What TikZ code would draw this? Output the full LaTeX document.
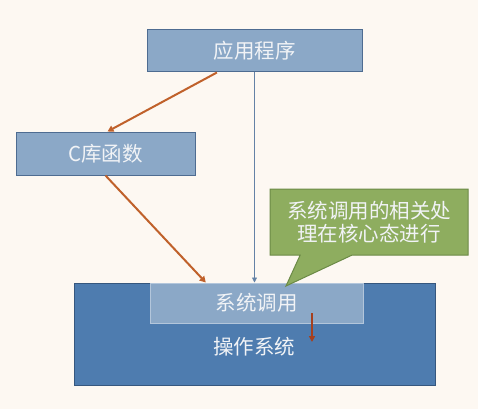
\documentclass[tikz,border=0pt]{standalone}
\usepackage{fontspec}
\newfontfamily\cjk{Noto Sans CJK SC}
\usetikzlibrary{arrows.meta,shapes.callouts,calc}
\definecolor{bgc}{HTML}{FDF8F2}
\definecolor{boxfill}{HTML}{8BA8C7}
\definecolor{boxdraw}{HTML}{4E6C91}
\definecolor{osfill}{HTML}{4E7CAF}
\definecolor{osdraw}{HTML}{36577E}
\definecolor{sysdraw}{HTML}{B3C6DB}
\definecolor{greenfill}{HTML}{8EAD5F}
\definecolor{greendraw}{HTML}{6B8A46}
\definecolor{orangec}{HTML}{C0612B}
\definecolor{thinblue}{HTML}{6482A6}
\definecolor{darkred}{HTML}{A5401F}
\definecolor{txt}{HTML}{F1F3F6}
\tikzset{
  blockbox/.style={draw=boxdraw, fill=boxfill, line width=1pt, inner sep=0pt,
    text=txt, font=\cjk\fontsize{20.5}{24}\selectfont},
  orangearrow/.style={draw=orangec, line width=2pt, -{Triangle[length=6pt,width=6.5pt]}},
}
\begin{document}
\begin{tikzpicture}[x=1pt,y=-1pt]
\useasboundingbox (0,0) rectangle (478,409);
\fill[bgc] (0,0) rectangle (478,409);
% operating system
\node[draw=osdraw, fill=osfill, line width=1pt, minimum width=361pt, minimum height=102pt, inner sep=0pt] (os) at (254.5,334) {};
\node[text=txt, font=\cjk\fontsize{20.5}{24}\selectfont] (ostext) at (254,347) {操作系统};
% system call
\node[blockbox, draw=sysdraw, minimum width=213pt, minimum height=40pt] (sys) at (256.5,303) {系统调用};
% application
\node[blockbox, minimum width=215pt, minimum height=42pt] (app) at (254.5,51) {应用程序};
% C library
\node[blockbox, minimum width=179pt, minimum height=43pt] (lib) at (105.5,153.5) {C库函数};
% callout
\node[rectangle callout, draw=greendraw, fill=greenfill, line width=1pt,
  minimum width=198pt, minimum height=66pt, inner sep=0pt, align=center,
  text=txt, font=\cjk\fontsize{20.5}{23.5}\selectfont,
  callout absolute pointer={(286,286)}, callout pointer width=52pt] (note) at (369,222)
  {系统调用的相关处\\理在核心态进行};
% connectors
\draw[orangearrow] ($(app.south west)!0.326!(app.south east)$) -- ($(lib.north)+(2,0)$);
\draw[orangearrow] (lib.south) -- ($(sys.north west)!0.263!(sys.north east)$);
\draw[thinblue, line width=0.8pt, -{Triangle[length=5pt,width=5pt]}] (app.south) -- (app.south |- sys.north);
\coordinate (rs) at (312,313);
\coordinate (re) at (312,342);
\draw[darkred, line width=1.8pt, -{Triangle[length=6pt,width=6pt]}] (rs) -- (re);
\end{tikzpicture}
\end{document}
